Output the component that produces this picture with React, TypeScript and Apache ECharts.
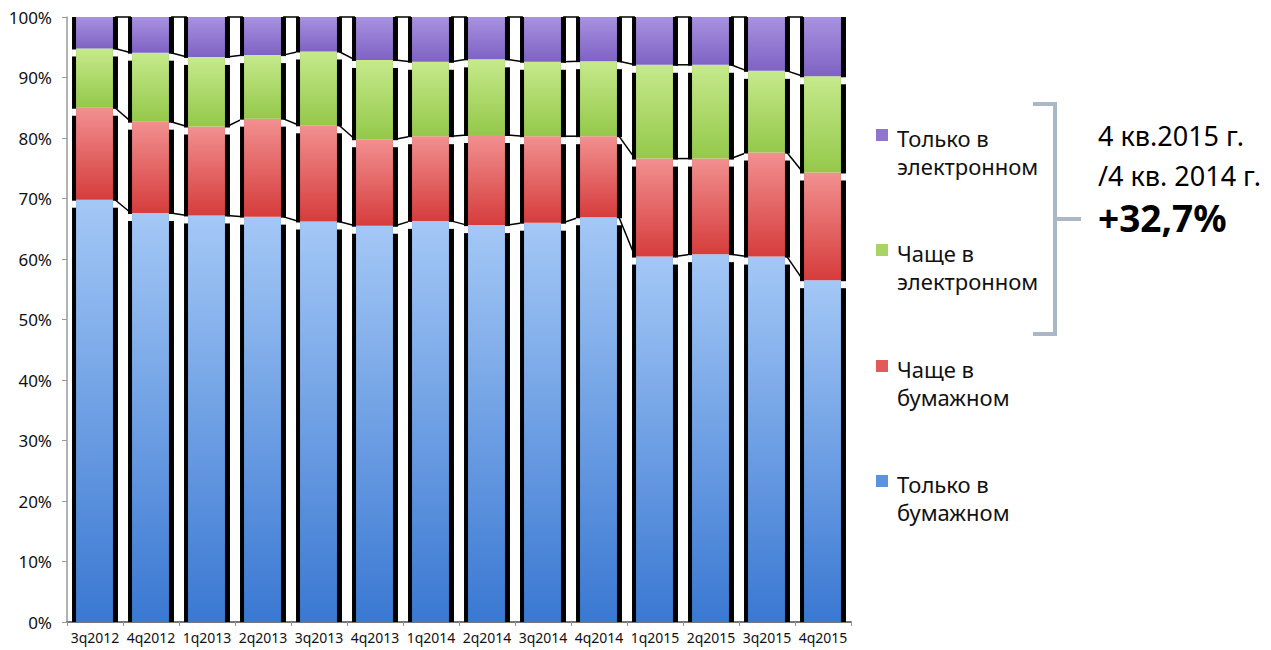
import React, { useEffect, useRef } from "react";
import * as echarts from "echarts";

const categories = [
  "3q2012", "4q2012", "1q2013", "2q2013", "3q2013", "4q2013", "1q2014",
  "2q2014", "3q2014", "4q2014", "1q2015", "2q2015", "3q2015", "4q2015",
];
const onlyPaper = [69.8, 67.6, 67.2, 67.0, 66.2, 65.5, 66.3, 65.6, 66.0, 66.9, 60.4, 60.8, 60.4, 56.5];
const morePaper = [15.2, 15.1, 14.7, 16.2, 15.9, 14.3, 14.0, 14.9, 14.3, 13.4, 16.2, 15.8, 17.2, 17.8];
const moreElectronic = [9.8, 11.4, 11.5, 10.5, 12.2, 13.1, 12.3, 12.5, 12.3, 12.4, 15.5, 15.5, 13.5, 15.9];
const onlyElectronic = [5.2, 5.9, 6.6, 6.3, 5.7, 7.1, 7.4, 7.0, 7.4, 7.3, 7.9, 7.9, 8.9, 9.8];

const seriesNames = ["Только в бумажном", "Чаще в бумажном", "Чаще в электронном", "Только в электронном"];
const legendLabels = ["Только в\nбумажном", "Чаще в\nбумажном", "Чаще в\nэлектронном", "Только в\nэлектронном"];
const annotationLines = ["4 кв.2015 г.", "/4 кв. 2014 г.", "+32,7%"];

const FONT = "'Noto Sans', 'DejaVu Sans', sans-serif";
const BAR_RATIO = 0.82;

const palette = [
  { top: "#a4c8f6", bottom: "#3a78d2", swatch: "#5b93e0" },
  { top: "#f29090", bottom: "#d63c3c", swatch: "#e25a5a" },
  { top: "#c6ea8c", bottom: "#94c84a", swatch: "#a8d466" },
  { top: "#a892e0", bottom: "#7f62c4", swatch: "#8f76cc" },
];

export default function App() {
  const ref = useRef<HTMLDivElement>(null);

  useEffect(() => {
    if (!ref.current) return;
    const chart = echarts.init(ref.current, null, { renderer: "svg" });
    const seriesData = [onlyPaper, morePaper, moreElectronic, onlyElectronic];

    const cum = categories.map((_, i) => {
      const c1 = onlyPaper[i];
      const c2 = c1 + morePaper[i];
      const c3 = c2 + moreElectronic[i];
      const c4 = c3 + onlyElectronic[i];
      return [c1, c2, c3, c4];
    });
    const edgeData = categories.map((_, i) => {
      const next = cum[i + 1] || cum[i];
      return [i, ...cum[i], ...next, i < categories.length - 1 ? 1 : 0];
    });

    const bars = seriesData.map((d, k) => ({
      name: seriesNames[k],
      type: "bar",
      stack: "total",
      barWidth: BAR_RATIO * 100 + "%",
      data: d,
      itemStyle: {
        color: new echarts.graphic.LinearGradient(0, 0, 0, 1, [
          { offset: 0, color: palette[k].top },
          { offset: 1, color: palette[k].bottom },
        ]),
      },
      z: 2,
    }));

    const edges = {
      type: "custom",
      data: edgeData,
      z: 5,
      silent: true,
      renderItem: (params: any, api: any) => {
        const i = api.value(0);
        const base = api.coord([i, 0]);
        const topP = api.coord([i, 100]);
        const bw = api.size([1, 0])[0] * BAR_RATIO;
        const L = base[0] - bw / 2;
        const R = base[0] + bw / 2;
        const h = base[1] - topP[1];
        const children: any[] = [
          { type: "rect", shape: { x: L, y: topP[1], width: 4, height: h }, style: { fill: "#000" } },
          { type: "rect", shape: { x: R - 5, y: topP[1], width: 5, height: h }, style: { fill: "#000" } },
        ];
        for (let k = 1; k <= 3; k++) {
          const y = api.coord([i, api.value(k)])[1];
          children.push({ type: "rect", shape: { x: L, y: y + 1, width: 4, height: 7 }, style: { fill: "#fff" } });
          children.push({ type: "rect", shape: { x: R - 5, y: y + 1, width: 5, height: 7 }, style: { fill: "#fff" } });
        }
        if (api.value(9) === 1) {
          const nb = api.coord([i + 1, 0]);
          const nL = nb[0] - bw / 2;
          for (let k = 1; k <= 4; k++) {
            const y1 = api.coord([i, api.value(k)])[1];
            const y2 = api.coord([i + 1, api.value(k + 4)])[1];
            children.push({
              type: "line",
              shape: { x1: R - 3, y1: y1, x2: nL + 3, y2: y2 },
              style: { stroke: "#000", lineWidth: 1.5 },
            });
          }
        }
        return { type: "group", children };
      },
    };

    const graphics: any[] = [];
    const legendOrder = [3, 2, 1, 0];
    const legendY = [138, 253, 369, 484];
    legendOrder.forEach((k, j) => {
      const cy = legendY[j];
      graphics.push({
        type: "rect",
        shape: { x: 876, y: cy - 9, width: 12, height: 12 },
        style: { fill: palette[k].swatch },
      });
      graphics.push({
        type: "text",
        x: 897,
        y: cy - 14,
        style: {
          text: legendLabels[k],
          font: `22px ${FONT}`,
          fill: "#111",
          lineHeight: 28,
          verticalAlign: "top",
          textAlign: "left",
        },
      });
    });
    const bracketColor = "#aab7c4";
    graphics.push(
      { type: "rect", shape: { x: 1033, y: 102, width: 24, height: 4 }, style: { fill: bracketColor } },
      { type: "rect", shape: { x: 1053, y: 102, width: 4, height: 234 }, style: { fill: bracketColor } },
      { type: "rect", shape: { x: 1033, y: 332, width: 24, height: 4 }, style: { fill: bracketColor } },
      { type: "rect", shape: { x: 1057, y: 217, width: 24, height: 4 }, style: { fill: bracketColor } }
    );
    const annY = [135, 175, 217];
    annotationLines.forEach((t, j) => {
      graphics.push({
        type: "text",
        x: 1098,
        y: annY[j],
        style: {
          text: t,
          font: j === 2 ? `bold 37px ${FONT}` : `27px ${FONT}`,
          fill: "#000",
          verticalAlign: "middle",
          textAlign: "left",
        },
      });
    });

    chart.setOption({
      animation: false,
      backgroundColor: "#fff",
      grid: { left: 67, right: 420, top: 17, bottom: 28, containLabel: false },
      xAxis: {
        type: "category",
        data: categories,
        axisLine: { show: true, lineStyle: { color: "#777", width: 2 } },
        axisTick: { show: true, length: 4, lineStyle: { color: "#999" } },
        axisLabel: { fontSize: 14, fontFamily: FONT, color: "#111", margin: 8, interval: 0 },
      },
      yAxis: {
        type: "value",
        min: 0,
        max: 100,
        interval: 10,
        axisLine: { show: true, lineStyle: { color: "#999", width: 1.5 } },
        axisTick: { show: true, length: 5, lineStyle: { color: "#999" } },
        axisLabel: { formatter: "{value}%", fontSize: 17, fontFamily: FONT, color: "#111", margin: 15 },
        splitLine: { show: false },
      },
      series: [...bars, edges],
      graphic: graphics,
    });
    return () => chart.dispose();
  }, []);

  return <div ref={ref} style={{ position: "absolute", left: 0, top: 0, width: 1271, height: 650 }} />;
}
